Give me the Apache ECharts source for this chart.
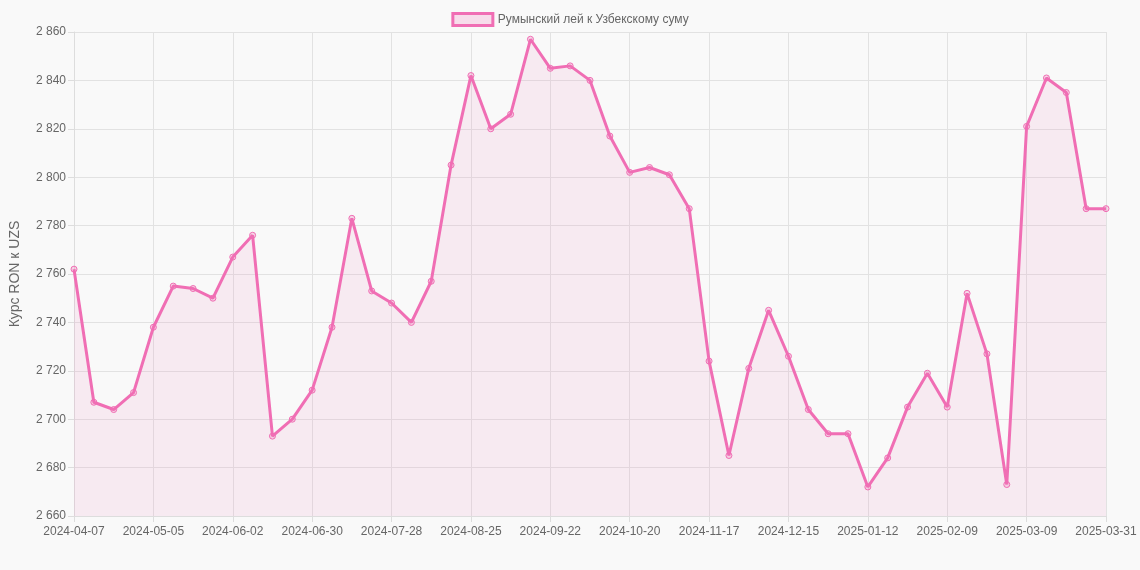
<!DOCTYPE html>
<html><head><meta charset="utf-8">
<script src="https://cdn.jsdelivr.net/npm/echarts@6/dist/echarts.min.js"></script>
<style>html,body{margin:0;background:#f9f9f9}#c{width:1140px;height:570px}</style>
</head><body><div id="c"></div>
<script>
const dates = ['2024-04-07','2024-04-14','2024-04-21','2024-04-28','2024-05-05','2024-05-12','2024-05-19','2024-05-26',
  '2024-06-02','2024-06-09','2024-06-16','2024-06-23','2024-06-30','2024-07-07','2024-07-14','2024-07-21',
  '2024-07-28','2024-08-04','2024-08-11','2024-08-18','2024-08-25','2024-09-01','2024-09-08','2024-09-15',
  '2024-09-22','2024-09-29','2024-10-06','2024-10-13','2024-10-20','2024-10-27','2024-11-03','2024-11-10',
  '2024-11-17','2024-11-24','2024-12-01','2024-12-08','2024-12-15','2024-12-22','2024-12-29','2025-01-05',
  '2025-01-12','2025-01-19','2025-01-26','2025-02-02','2025-02-09','2025-02-16','2025-02-23','2025-03-02',
  '2025-03-09','2025-03-16','2025-03-23','2025-03-30','2025-03-31'];
const rates = [2762,2707,2704,2711,2738,2755,2754,2750,2767,2776,2693,2700,2712,2738,2783,2753,
  2748,2740,2757,2805,2842,2820,2826,2857,2845,2846,2840,2817,2802,2804,2801,2787,
  2724,2685,2721,2745,2726,2704,2694,2694,2672,2684,2705,2719,2705,2752,2727,2673,
  2821,2841,2835,2787,2787];
const seriesName = 'Румынский лей к Узбекскому суму';

const chart = echarts.init(document.getElementById('c'));
const fmt = v => String(v).replace(/\B(?=(\d{3})+(?!\d))/g, ' ');
chart.setOption({
  backgroundColor: '#f9f9f9',
  textStyle: { fontFamily: 'Liberation Sans, Arial, sans-serif' },
  legend: {
    top: 7, itemWidth: 40, itemHeight: 12,
    textStyle: { color: '#666', fontSize: 12 },
    data: [{ name: seriesName, icon: 'rect', itemStyle: { color: 'rgba(240,110,180,0.2)', borderColor: '#f06eb4', borderWidth: 3 } }]
  },
  grid: { left: 68, right: 34, top: 32, bottom: 54 },
  xAxis: {
    type: 'category', data: dates, boundaryGap: false,
    axisLine: { lineStyle: { color: '#ddd' } },
    axisTick: { show: true, length: 6, interval: (i) => i % 4 === 0 || i === dates.length - 1, lineStyle: { color: '#ddd' } },
    axisLabel: { color: '#666', fontSize: 12, margin: 10, interval: (i) => i % 4 === 0 || i === dates.length - 1 },
    splitLine: { show: true, interval: (i) => i % 4 === 0 || i === dates.length - 1, lineStyle: { color: '#e2e2e2' } }
  },
  yAxis: {
    type: 'value', min: 2660, max: 2860, interval: 20,
    name: 'Курс RON к UZS', nameLocation: 'middle', nameGap: 52, nameRotate: 90,
    nameTextStyle: { color: '#666', fontSize: 14 },
    axisLine: { show: true, lineStyle: { color: '#ddd' } },
    axisTick: { show: true, length: 6, lineStyle: { color: '#ddd' } },
    axisLabel: { color: '#666', fontSize: 12, formatter: fmt },
    splitLine: { lineStyle: { color: '#e2e2e2' } }
  },
  series: [{
    name: seriesName, type: 'line', data: rates,
    symbol: 'circle', symbolSize: 6,
    itemStyle: { color: 'rgba(240,110,180,0.25)', borderColor: '#f06eb4', borderWidth: 1 },
    lineStyle: { color: '#f06eb4', width: 3 },
    areaStyle: { color: 'rgba(240,110,180,0.15)' }
  }]
});
</script></body></html>
